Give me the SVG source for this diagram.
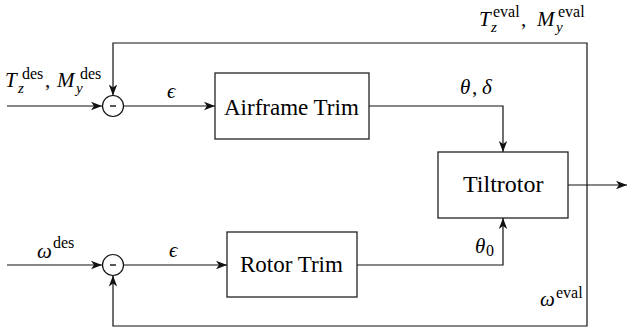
<svg xmlns="http://www.w3.org/2000/svg" width="627" height="328" viewBox="0 0 627 328">
  <rect width="627" height="328" fill="#fff"/>
  <defs>
    <marker id="arrow" markerUnits="userSpaceOnUse" markerWidth="12" markerHeight="10" refX="11" refY="5" orient="auto">
      <path d="M0,0.8 L11,5 L0,9.2 L3,5 Z" fill="#111"/>
    </marker>
  </defs>

  <!-- connectors -->
  <g id="connectors" fill="none" stroke="#111" stroke-width="1.2">
    <!-- upper loop -->
    <line x1="7" y1="106" x2="102" y2="106" marker-end="url(#arrow)"/>
    <line x1="123.5" y1="106" x2="215" y2="106" marker-end="url(#arrow)"/>
    <polyline points="369,106 503,106 503,152" marker-end="url(#arrow)"/>
    <!-- lower loop -->
    <line x1="7" y1="265" x2="102" y2="265" marker-end="url(#arrow)"/>
    <line x1="123.5" y1="265" x2="227" y2="265" marker-end="url(#arrow)"/>
    <polyline points="357,265 503,265 503,218" marker-end="url(#arrow)"/>
    <!-- output -->
    <line x1="568" y1="185" x2="627" y2="185" marker-end="url(#arrow)"/>
    <!-- feedback paths -->
    <polyline points="587,185 587,43 113,43 113,95.5" marker-end="url(#arrow)"/>
    <polyline points="587,185 587,326 113,326 113,275.5" marker-end="url(#arrow)"/>
  </g>

  <!-- summing junctions -->
  <g id="sum-top" stroke="#111">
    <circle cx="113" cy="106" r="10.5" fill="#fff" stroke-width="1.2"/>
    <line x1="110" y1="106" x2="116" y2="106" stroke-width="1.4"/>
  </g>
  <g id="sum-bottom" stroke="#111">
    <circle cx="113" cy="265" r="10.5" fill="#fff" stroke-width="1.2"/>
    <line x1="110" y1="265" x2="116" y2="265" stroke-width="1.4"/>
  </g>

  <!-- blocks -->
  <g id="airframe-trim">
    <rect x="215" y="73" width="154" height="66" fill="#fff" stroke="#222" stroke-width="1.3"/>
    <text x="224" y="115" font-family="Liberation Serif" font-size="23">Airframe Trim</text>
  </g>
  <g id="rotor-trim">
    <rect x="227" y="232" width="130" height="65" fill="#fff" stroke="#222" stroke-width="1.3"/>
    <text x="240" y="272" font-family="Liberation Serif" font-size="23">Rotor Trim</text>
  </g>
  <g id="tiltrotor">
    <rect x="438" y="152" width="130" height="66" fill="#fff" stroke="#222" stroke-width="1.3"/>
    <text x="463" y="192" font-family="Liberation Serif" font-size="24">Tiltrotor</text>
  </g>

  <!-- signal labels -->
  <g id="label-des-top">
    <text x="5" y="87" font-family="Liberation Serif" font-size="21" font-style="italic">T</text>
    <text x="18" y="93" font-family="Liberation Serif" font-size="15" font-style="italic">z</text>
    <text x="22" y="79" font-family="Liberation Serif" font-size="16">des</text>
    <text x="45" y="87" font-family="Liberation Serif" font-size="21">,</text>
    <text x="57" y="87" font-family="Liberation Serif" font-size="21" font-style="italic">M</text>
    <text x="76" y="93" font-family="Liberation Serif" font-size="15" font-style="italic">y</text>
    <text x="80" y="79" font-family="Liberation Serif" font-size="16">des</text>
  </g>
  <g id="label-eps-top">
    <text x="167" y="98" font-family="Liberation Serif" font-size="21" font-style="italic">ϵ</text>
  </g>
  <g id="label-theta-delta">
    <text x="460" y="94" font-family="Liberation Serif" font-size="21" font-style="italic">θ</text>
    <text x="472" y="94" font-family="Liberation Serif" font-size="21">,</text>
    <text x="482" y="94" font-family="Liberation Serif" font-size="21" font-style="italic">δ</text>
  </g>
  <g id="label-eval-top">
    <text x="479" y="26" font-family="Liberation Serif" font-size="21" font-style="italic">T</text>
    <text x="491" y="32" font-family="Liberation Serif" font-size="15" font-style="italic">z</text>
    <text x="493" y="17" font-family="Liberation Serif" font-size="16">eval</text>
    <text x="521" y="26" font-family="Liberation Serif" font-size="21">,</text>
    <text x="537" y="26" font-family="Liberation Serif" font-size="21" font-style="italic">M</text>
    <text x="556" y="32" font-family="Liberation Serif" font-size="15" font-style="italic">y</text>
    <text x="558" y="17" font-family="Liberation Serif" font-size="16">eval</text>
  </g>
  <g id="label-omega-des">
    <text x="37" y="258" font-family="Liberation Serif" font-size="21" font-style="italic">ω</text>
    <text x="53" y="248" font-family="Liberation Serif" font-size="16">des</text>
  </g>
  <g id="label-eps-bottom">
    <text x="169" y="257" font-family="Liberation Serif" font-size="21" font-style="italic">ϵ</text>
  </g>
  <g id="label-theta0">
    <text x="475" y="253" font-family="Liberation Serif" font-size="21" font-style="italic">θ</text>
    <text x="486" y="256" font-family="Liberation Serif" font-size="16">0</text>
  </g>
  <g id="label-omega-eval">
    <text x="540" y="306" font-family="Liberation Serif" font-size="21" font-style="italic">ω</text>
    <text x="556" y="298" font-family="Liberation Serif" font-size="16">eval</text>
  </g>
</svg>
